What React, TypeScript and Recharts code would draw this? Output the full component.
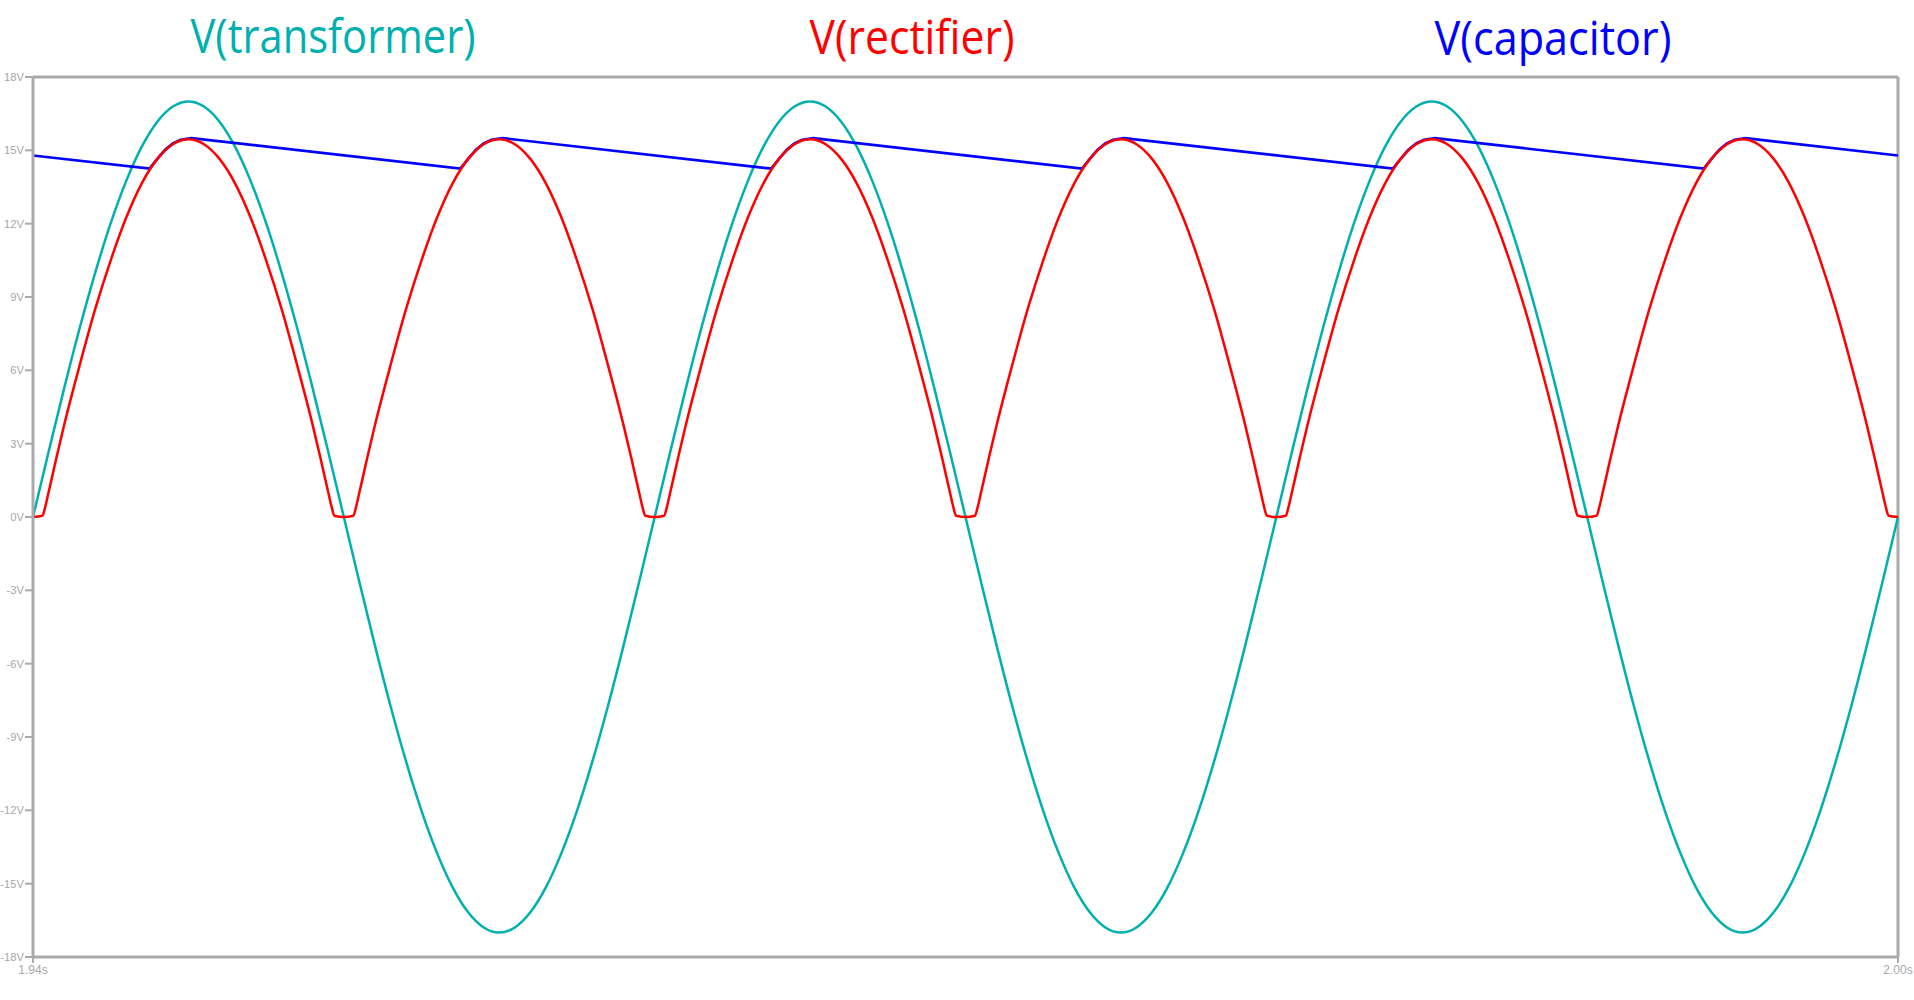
import React from 'react';
import { LineChart, Line, XAxis, YAxis, ReferenceLine } from 'recharts';

// time in ms after 1.94 s
const transformerTimes = [
  0, 0.5, 1, 1.5, 2, 2.5, 3, 3.5, 4, 4.5, 5, 5.5, 6, 6.5, 7, 7.5, 8, 8.5, 9, 9.5,
  10, 10.5, 11, 11.5, 12, 12.5, 13, 13.5, 14, 14.5, 15, 15.5, 16, 16.5, 17, 17.5, 18, 18.5, 19, 19.5,
  20, 20.5, 21, 21.5, 22, 22.5, 23, 23.5, 24, 24.5, 25, 25.5, 26, 26.5, 27, 27.5, 28, 28.5, 29, 29.5,
  30, 30.5, 31, 31.5, 32, 32.5, 33, 33.5, 34, 34.5, 35, 35.5, 36, 36.5, 37, 37.5, 38, 38.5, 39, 39.5,
  40, 40.5, 41, 41.5, 42, 42.5, 43, 43.5, 44, 44.5, 45, 45.5, 46, 46.5, 47, 47.5, 48, 48.5, 49, 49.5,
  50, 50.5, 51, 51.5, 52, 52.5, 53, 53.5, 54, 54.5, 55, 55.5, 56, 56.5, 57, 57.5, 58, 58.5, 59, 59.5,
  60,
];
const transformerValues = [
  0, 2.66, 5.25, 7.72, 9.99, 12.02, 13.75, 15.15, 16.17, 16.79, 17, 16.79, 16.17, 15.15, 13.75, 12.02, 9.99, 7.72, 5.25, 2.66,
  0, -2.66, -5.25, -7.72, -9.99, -12.02, -13.75, -15.15, -16.17, -16.79, -17, -16.79, -16.17, -15.15, -13.75, -12.02, -9.99, -7.72, -5.25, -2.66,
  0, 2.66, 5.25, 7.72, 9.99, 12.02, 13.75, 15.15, 16.17, 16.79, 17, 16.79, 16.17, 15.15, 13.75, 12.02, 9.99, 7.72, 5.25, 2.66,
  0, -2.66, -5.25, -7.72, -9.99, -12.02, -13.75, -15.15, -16.17, -16.79, -17, -16.79, -16.17, -15.15, -13.75, -12.02, -9.99, -7.72, -5.25, -2.66,
  0, 2.66, 5.25, 7.72, 9.99, 12.02, 13.75, 15.15, 16.17, 16.79, 17, 16.79, 16.17, 15.15, 13.75, 12.02, 9.99, 7.72, 5.25, 2.66,
  0, -2.66, -5.25, -7.72, -9.99, -12.02, -13.75, -15.15, -16.17, -16.79, -17, -16.79, -16.17, -15.15, -13.75, -12.02, -9.99, -7.72, -5.25, -2.66,
  0,
];

const rectifierTimes = [
  0, 0.3, 0.4, 0.5, 0.75, 1, 1.5, 2, 2.5, 3, 3.5, 4, 4.5, 5, 5.5, 6, 6.5, 7, 7.5, 8, 8.5, 9, 9.25, 9.5, 9.6, 9.7,
  10, 10.3, 10.4, 10.5, 10.75, 11, 11.5, 12, 12.5, 13, 13.5, 14, 14.5, 15, 15.5, 16, 16.5, 17, 17.5, 18, 18.5, 19, 19.25, 19.5, 19.6, 19.7,
  20, 20.3, 20.4, 20.5, 20.75, 21, 21.5, 22, 22.5, 23, 23.5, 24, 24.5, 25, 25.5, 26, 26.5, 27, 27.5, 28, 28.5, 29, 29.25, 29.5, 29.6, 29.7,
  30, 30.3, 30.4, 30.5, 30.75, 31, 31.5, 32, 32.5, 33, 33.5, 34, 34.5, 35, 35.5, 36, 36.5, 37, 37.5, 38, 38.5, 39, 39.25, 39.5, 39.6, 39.7,
  40, 40.3, 40.4, 40.5, 40.75, 41, 41.5, 42, 42.5, 43, 43.5, 44, 44.5, 45, 45.5, 46, 46.5, 47, 47.5, 48, 48.5, 49, 49.25, 49.5, 49.6, 49.7,
  50, 50.3, 50.4, 50.5, 50.75, 51, 51.5, 52, 52.5, 53, 53.5, 54, 54.5, 55, 55.5, 56, 56.5, 57, 57.5, 58, 58.5, 59, 59.25, 59.5, 59.6, 59.7,
  60,
];
const rectifierValues = [
  0, 0.05, 0.45, 1.0, 2.4, 3.75, 6.2, 8.5, 10.5, 12.25, 13.65, 14.65, 15.25, 15.45, 15.25, 14.65, 13.65, 12.25, 10.5, 8.5, 6.2, 3.75, 2.4, 1.0, 0.45, 0.05,
  0, 0.05, 0.45, 1.0, 2.4, 3.75, 6.2, 8.5, 10.5, 12.25, 13.65, 14.65, 15.25, 15.45, 15.25, 14.65, 13.65, 12.25, 10.5, 8.5, 6.2, 3.75, 2.4, 1.0, 0.45, 0.05,
  0, 0.05, 0.45, 1.0, 2.4, 3.75, 6.2, 8.5, 10.5, 12.25, 13.65, 14.65, 15.25, 15.45, 15.25, 14.65, 13.65, 12.25, 10.5, 8.5, 6.2, 3.75, 2.4, 1.0, 0.45, 0.05,
  0, 0.05, 0.45, 1.0, 2.4, 3.75, 6.2, 8.5, 10.5, 12.25, 13.65, 14.65, 15.25, 15.45, 15.25, 14.65, 13.65, 12.25, 10.5, 8.5, 6.2, 3.75, 2.4, 1.0, 0.45, 0.05,
  0, 0.05, 0.45, 1.0, 2.4, 3.75, 6.2, 8.5, 10.5, 12.25, 13.65, 14.65, 15.25, 15.45, 15.25, 14.65, 13.65, 12.25, 10.5, 8.5, 6.2, 3.75, 2.4, 1.0, 0.45, 0.05,
  0, 0.05, 0.45, 1.0, 2.4, 3.75, 6.2, 8.5, 10.5, 12.25, 13.65, 14.65, 15.25, 15.45, 15.25, 14.65, 13.65, 12.25, 10.5, 8.5, 6.2, 3.75, 2.4, 1.0, 0.45, 0.05,
  0,
];

const capacitorTimes = [
  0,
  3.75, 4, 4.25, 4.5, 4.75, 5.1,
  13.75, 14, 14.25, 14.5, 14.75, 15.1,
  23.75, 24, 24.25, 24.5, 24.75, 25.1,
  33.75, 34, 34.25, 34.5, 34.75, 35.1,
  43.75, 44, 44.25, 44.5, 44.75, 45.1,
  53.75, 54, 54.25, 54.5, 54.75, 55.1,
  60,
];
const capacitorValues = [
  14.79,
  14.25, 14.65, 15.02, 15.28, 15.43, 15.5,
  14.25, 14.65, 15.02, 15.28, 15.43, 15.5,
  14.25, 14.65, 15.02, 15.28, 15.43, 15.5,
  14.25, 14.65, 15.02, 15.28, 15.43, 15.5,
  14.25, 14.65, 15.02, 15.28, 15.43, 15.5,
  14.25, 14.65, 15.02, 15.28, 15.43, 15.5,
  14.79,
];

const yTicks = [-18, -15, -12, -9, -6, -3, 0, 3, 6, 9, 12, 15, 18];
const xTicks = [0, 60];
const xTickLabels = ['1.94s', '2.00s'];

const titles = [
  { text: 'V(transformer)', color: '#00AFAF', x: 333, y: 53, w: 285 },
  { text: 'V(rectifier)', color: '#FF0000', x: 912, y: 54, w: 205 },
  { text: 'V(capacitor)', color: '#0000FF', x: 1553, y: 55, w: 237 },
];

const zip = (ts: number[], vs: number[]) => ts.map((t, i) => ({ t, v: vs[i] }));

const AXIS = '#AAAAAA';
const LABEL = '#A8A8A8';

export default function App() {
  const transformer = zip(transformerTimes, transformerValues);
  const rectifier = zip(rectifierTimes, rectifierValues);
  const capacitor = zip(capacitorTimes, capacitorValues);
  return (
    <div style={{ position: 'absolute', left: 0, top: 0, width: 1914, height: 1000, background: '#fff' }}>
      <LineChart width={1914} height={1000} margin={{ top: 77, right: 16, bottom: 0, left: 0 }}>
        <XAxis
          dataKey="t"
          type="number"
          domain={[0, 60]}
          ticks={xTicks}
          interval={0}
          height={43}
          tickSize={6}
          tickFormatter={(v: number) => xTickLabels[xTicks.indexOf(v)]}
          axisLine={{ stroke: AXIS, strokeWidth: 3 }}
          tickLine={{ stroke: AXIS, strokeWidth: 2 }}
          tick={{ fill: LABEL, fontSize: 12, fontFamily: 'Liberation Sans' }}
          allowDuplicatedCategory={false}
        />
        <YAxis
          type="number"
          domain={[-18, 18]}
          ticks={yTicks}
          interval={0}
          width={33}
          tickSize={8}
          tickMargin={1}
          tickFormatter={(v: number) => `${v}V`}
          axisLine={{ stroke: AXIS, strokeWidth: 3 }}
          tickLine={{ stroke: AXIS, strokeWidth: 2 }}
          tick={{ fill: LABEL, fontSize: 11.2, fontFamily: 'Liberation Sans' }}
        />
        <ReferenceLine y={18} stroke={AXIS} strokeWidth={3} />
        <ReferenceLine x={60} stroke={AXIS} strokeWidth={3} />
        <Line
          data={transformer}
          dataKey="v"
          type="monotone"
          stroke="#00AFAF"
          strokeWidth={2.5}
          dot={false}
          isAnimationActive={false}
        />
        <Line
          data={capacitor}
          dataKey="v"
          type="linear"
          stroke="#0000FF"
          strokeWidth={2.7}
          dot={false}
          isAnimationActive={false}
        />
        <Line
          data={rectifier}
          dataKey="v"
          type="monotone"
          stroke="#FF0000"
          strokeWidth={2.5}
          dot={false}
          isAnimationActive={false}
        />
      </LineChart>
      <svg width={1914} height={80} style={{ position: 'absolute', left: 0, top: 0, pointerEvents: 'none' }}>
        {titles.map((tt) => (
          <text
            key={tt.text}
            x={tt.x}
            y={tt.y}
            fill={tt.color}
            fontSize={47}
            fontFamily="Open Sans"
            textAnchor="middle"
            textLength={tt.w}
            lengthAdjust="spacingAndGlyphs"
          >
            {tt.text}
          </text>
        ))}
      </svg>
    </div>
  );
}
